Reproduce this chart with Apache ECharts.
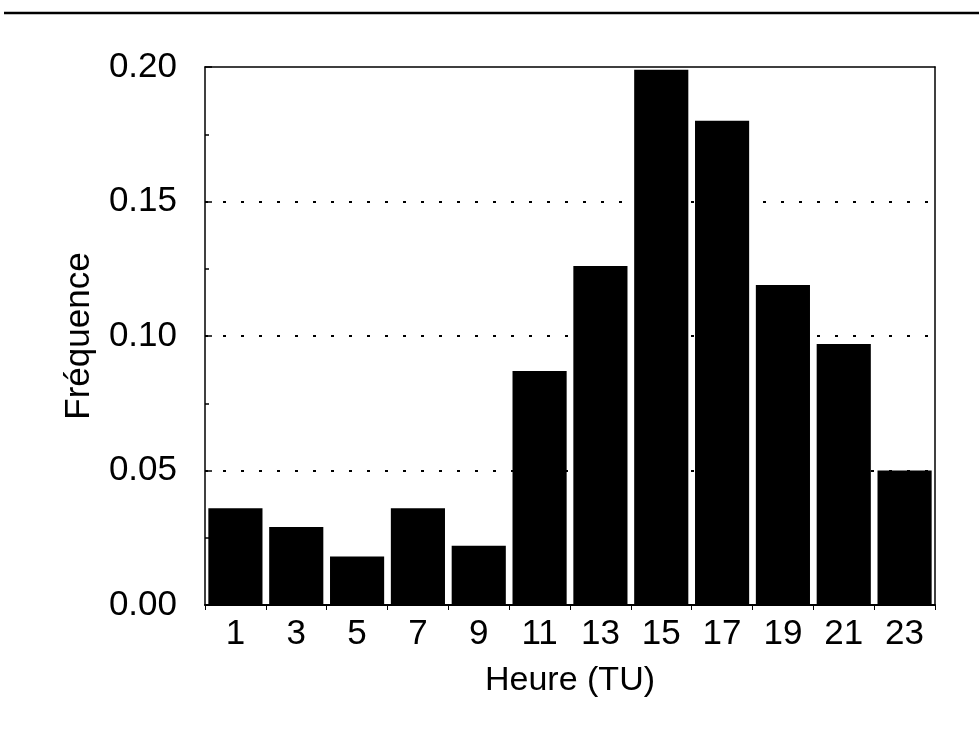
<!DOCTYPE html>
<html>
<head>
<meta charset="utf-8">
<script src="https://cdn.jsdelivr.net/npm/echarts@6/dist/echarts.min.js"></script>
<style>
html,body{margin:0;padding:0;background:#fff;}
#chart{width:979px;height:741px;}
</style>
</head>
<body>
<div id="chart"></div>
<script>
var hours = ['1','3','5','7','9','11','13','15','17','19','21','23'];
var freq = [0.036, 0.029, 0.018, 0.036, 0.022, 0.087, 0.126, 0.199, 0.180, 0.119, 0.097, 0.050];
var xTitle = 'Heure (TU)';
var yTitle = 'Fréquence';

var font = '"Liberation Sans", Arial, Helvetica, sans-serif';
var chart = echarts.init(document.getElementById('chart'), null, {renderer: 'canvas'});
chart.setOption({
  animation: false,
  backgroundColor: '#fff',
  graphic: [{
    type: 'line',
    shape: {x1: 4, y1: 13, x2: 979, y2: 13},
    style: {stroke: '#000', lineWidth: 2.5}
  }],
  grid: {
    left: 205, right: 44, top: 67, bottom: 136,
    show: false
  },
  xAxis: [{
    type: 'category',
    data: hours,
    name: xTitle,
    nameLocation: 'middle',
    nameGap: 59,
    nameTextStyle: {fontFamily: font, fontSize: 34, color: '#000'},
    axisLine: {show: true, onZero: false, lineStyle: {color: '#000', width: 2}},
    axisTick: {show: true, length: 5, lineStyle: {color: '#000', width: 1}},
    axisLabel: {fontFamily: font, fontSize: 35, color: '#000', margin: 12},
    splitLine: {show: false}
  }, {
    type: 'category',
    data: hours,
    position: 'top',
    axisLine: {show: true, onZero: false, lineStyle: {color: '#000', width: 1.5}},
    axisTick: {show: false},
    axisLabel: {show: false},
    splitLine: {show: false}
  }],
  yAxis: [{
    type: 'value',
    min: 0, max: 0.20, interval: 0.05,
    name: yTitle,
    nameLocation: 'middle',
    nameGap: 108,
    nameRotate: 90,
    nameTextStyle: {fontFamily: font, fontSize: 35, color: '#000'},
    axisLine: {show: true, onZero: false, lineStyle: {color: '#000', width: 1.5}},
    axisTick: {show: true, inside: true, length: 7, lineStyle: {color: '#000', width: 1.5}},
    minorTick: {show: true, splitNumber: 2, length: 4, lineStyle: {color: '#000', width: 1.5}},
    axisLabel: {
      fontFamily: font, fontSize: 35, color: '#000', margin: 28,
      formatter: function (v) { return v.toFixed(2); }
    },
    splitLine: {
      show: true,
      lineStyle: {color: '#000', width: 2, type: [3, 15]},
      showMinLine: false,
      showMaxLine: false
    }
  }, {
    type: 'value',
    min: 0, max: 0.20, interval: 0.05,
    position: 'right',
    axisLine: {show: true, onZero: false, lineStyle: {color: '#000', width: 1.5}},
    axisTick: {show: false},
    axisLabel: {show: false},
    splitLine: {show: false}
  }],
  series: [{
    type: 'bar',
    data: freq,
    barCategoryGap: '11%',
    itemStyle: {color: '#000'},
    z: 3
  }]
});
</script>
</body>
</html>
